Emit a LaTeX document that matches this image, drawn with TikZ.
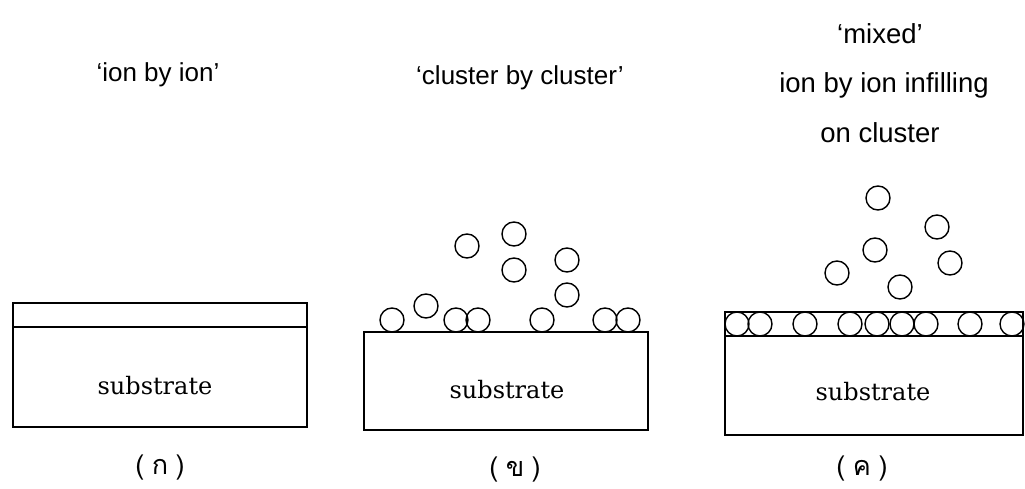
\documentclass[tikz,border=0pt]{standalone}
\usepackage{fontspec}
\setmainfont{Liberation Sans}
\newfontfamily\subfont{DejaVu Serif}
\newfontfamily\thaifont[Script=Thai]{Loma}
\begin{document}
\begin{tikzpicture}[x=1pt,y=-1pt, line width=1.4pt,
  ion/.style={line width=1.4pt},
  title/.style={font=\fontsize{26}{30}\selectfont, inner sep=0pt},
  sub/.style={font=\subfont\fontsize{24}{28}\selectfont, inner sep=0pt},
  lab/.style={font=\thaifont\fontsize{27}{30}\selectfont, inner sep=0pt}]
\useasboundingbox (0,0) rectangle (1025,489);
\fill[white] (0,0) rectangle (1025,489);
% titles
\node[title] (ta) at (158,75) {‘ion by ion’};
\node[title] (tb) at (520,78) {‘cluster by cluster’};
\node[title, font=\fontsize{27.5}{30}\selectfont] (tc1) at (880,34) {‘mixed’};
\node[title, font=\fontsize{27.5}{30}\selectfont] (tc2) at (884,85) {ion by ion infilling};
\node[title, font=\fontsize{27.5}{30}\selectfont] (tc3) at (880,133) {on cluster};
% panel A
\draw (13,303) rectangle (307,427);
\draw (13,327) -- (307,327);
\node[sub] (sa) at (155,386) {substrate};
\node[lab] (la) at (160,468) {(\;ก\;)};
% panel B
\draw (364,332) rectangle (648,430);
\node[sub] (sb) at (507,390) {substrate};
\node[lab] (lb) at (515,470) {(\;ข\;)};
\foreach \x/\y in {392/320,426/306,456/320,478/320,467/246,514/234,514/270,542/320,567/260,567/295,605/320,628/320}
  \draw[ion] (\x,\y) circle[radius=12];
% panel C
\draw (725,312) rectangle (1023,435);
\draw (725,336) -- (1023,336);
\node[sub] (sc) at (873,392) {substrate};
\node[lab] (lc) at (862,469) {(\;ค\;)};
\foreach \x in {737,760,805,850,877,902,926,970,1012}
  \draw[ion] (\x,324) circle[radius=12];
\foreach \x/\y in {878/198,937/227,875/250,950/263,837/273,900/287}
  \draw[ion] (\x,\y) circle[radius=12];
\end{tikzpicture}
\end{document}
